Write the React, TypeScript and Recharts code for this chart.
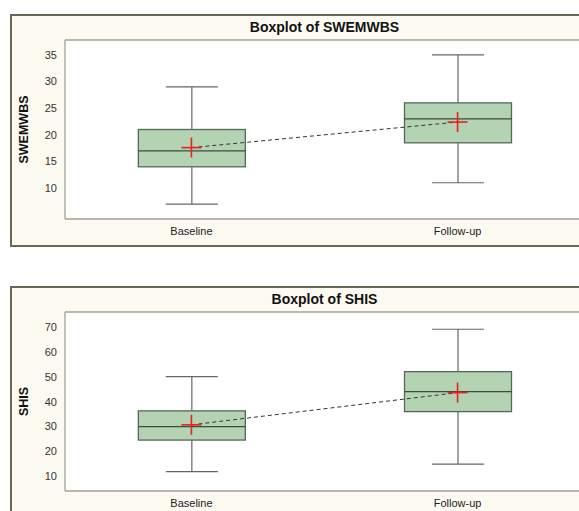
import React from "react";
import {
  ComposedChart,
  CartesianGrid,
  XAxis,
  YAxis,
  Bar,
  Line,
} from "recharts";

const groups = ["Baseline", "Follow-up"];
const groupX = [0, 1];

// SWEMWBS five-number summaries + means
const swemMin = [7, 11];
const swemQ1 = [14, 18.5];
const swemMedian = [17, 23];
const swemQ3 = [21, 26];
const swemMax = [29, 35];
const swemMean = [17.6, 22.4];
const swemTicks = [10, 15, 20, 25, 30, 35];

// SHIS
const shisMin = [12, 15];
const shisQ1 = [24.6, 36];
const shisMedian = [30, 44];
const shisQ3 = [36.3, 52];
const shisMax = [50, 69];
const shisMean = [30.7, 43.6];
const shisTicks = [10, 20, 30, 40, 50, 60, 70];

const FONT = '"Liberation Sans", Arial, sans-serif';

const buildRows = (
  mins: number[],
  q1s: number[],
  meds: number[],
  q3s: number[],
  maxs: number[],
  means: number[]
) =>
  groups.map((name, i) => ({
    name,
    x: groupX[i],
    range: [mins[i], maxs[i]],
    min: mins[i],
    q1: q1s[i],
    median: meds[i],
    q3: q3s[i],
    max: maxs[i],
    mean: means[i],
  }));

const swemRows = buildRows(swemMin, swemQ1, swemMedian, swemQ3, swemMax, swemMean);
const shisRows = buildRows(shisMin, shisQ1, shisMedian, shisQ3, shisMax, shisMean);

const BoxShape = (props: any) => {
  const { x, y, width, height, payload } = props;
  if (!payload || height == null) return null;
  const k = height / (payload.max - payload.min);
  const yOf = (v: number) => y + (payload.max - v) * k;
  const cx = x + width / 2;
  const cap = 26;
  return (
    <g>
      <line x1={cx} x2={cx} y1={yOf(payload.max)} y2={yOf(payload.q3)} stroke="#666" strokeWidth={1.2} />
      <line x1={cx} x2={cx} y1={yOf(payload.q1)} y2={yOf(payload.min)} stroke="#666" strokeWidth={1.2} />
      <line x1={cx - cap} x2={cx + cap} y1={yOf(payload.max)} y2={yOf(payload.max)} stroke="#666" strokeWidth={1.2} />
      <line x1={cx - cap} x2={cx + cap} y1={yOf(payload.min)} y2={yOf(payload.min)} stroke="#666" strokeWidth={1.2} />
      <rect
        x={x}
        y={yOf(payload.q3)}
        width={width}
        height={yOf(payload.q1) - yOf(payload.q3)}
        fill="#b3d3b3"
        stroke="#56685a"
        strokeWidth={1.3}
      />
      <line x1={x} x2={x + width} y1={yOf(payload.median)} y2={yOf(payload.median)} stroke="#3c4a40" strokeWidth={1.2} />
    </g>
  );
};

const MeanCross = (props: any) => {
  const { cx, cy, index } = props;
  if (cx == null || cy == null) return null;
  return (
    <g key={"m" + index}>
      <line x1={cx - 10} x2={cx + 10} y1={cy} y2={cy} stroke="#e8231e" strokeWidth={1.6} />
      <line x1={cx} x2={cx} y1={cy - 10} y2={cy + 10} stroke="#e8231e" strokeWidth={1.6} />
    </g>
  );
};

const borderLines = ({ offset }: any, vertical: boolean) =>
  vertical ? [offset.left, offset.left + offset.width] : [offset.top, offset.top + offset.height];

interface PanelProps {
  top: number;
  title: string;
  label: string;
  rows: any[];
  domain: [number, number];
  ticks: number[];
}

const Panel: React.FC<PanelProps> = ({ top, title, label, rows, domain, ticks }) => (
  <div style={{ position: "absolute", left: 0, top, width: 600, height: 250 }}>
    <div
      style={{
        position: "absolute",
        left: 10,
        top: 14,
        width: 620,
        height: 233,
        boxSizing: "border-box",
        border: "2px solid #6b6656",
        background: "#fdfaf2",
      }}
    />
    <div
      style={{
        position: "absolute",
        left: 65,
        width: 519,
        top: 19,
        textAlign: "center",
        fontFamily: FONT,
        fontWeight: "bold",
        fontSize: 14,
        color: "#111",
      }}
    >
      {title}
    </div>
    <div style={{ position: "absolute", left: 0, top: 0 }}>
      <ComposedChart
        width={600}
        height={250}
        data={rows}
        margin={{ top: 40, right: 16, bottom: 6, left: 0 }}
      >
        <CartesianGrid
          fill="#ffffff"
          stroke="#a4a196"
          strokeWidth={1.3}
          horizontalCoordinatesGenerator={(p: any) => borderLines(p, false)}
          verticalCoordinatesGenerator={(p: any) => borderLines(p, true)}
        />
        <XAxis
          dataKey="x"
          type="number"
          domain={[-0.475, 1.475]}
          ticks={groupX}
          allowDataOverflow
          tickFormatter={(v: number) => groups[v]}
          axisLine={false}
          tickLine={false}
          height={25}
          tick={{ fontSize: 11, fill: "#222", fontFamily: FONT }}
        />
        <YAxis
          type="number"
          domain={domain}
          ticks={ticks}
          allowDataOverflow
          axisLine={false}
          tickLine={false}
          width={65}
          tick={{ fontSize: 11, fill: "#333", fontFamily: FONT }}
          label={{
            value: label,
            angle: -90,
            position: "insideLeft",
            offset: 24,
            style: { textAnchor: "middle", fontWeight: "bold", fontSize: 12.5, fill: "#111", fontFamily: FONT },
          }}
        />
        <Bar dataKey="range" barSize={107} shape={BoxShape} isAnimationActive={false} />
        <Line
          dataKey="mean"
          stroke="#333"
          strokeWidth={1}
          strokeDasharray="4 3"
          dot={MeanCross}
          activeDot={false}
          isAnimationActive={false}
        />
      </ComposedChart>
    </div>
  </div>
);

const App: React.FC = () => (
  <div
    style={{
      position: "absolute",
      left: 0,
      top: 0,
      width: 579,
      height: 511,
      overflow: "hidden",
      background: "#fff",
    }}
  >
    <Panel top={0} title="Boxplot of SWEMWBS" label="SWEMWBS" rows={swemRows} domain={[4.2, 37.8]} ticks={swemTicks} />
    <Panel top={272} title="Boxplot of SHIS" label="SHIS" rows={shisRows} domain={[4.2, 75.9]} ticks={shisTicks} />
  </div>
);

export default App;
